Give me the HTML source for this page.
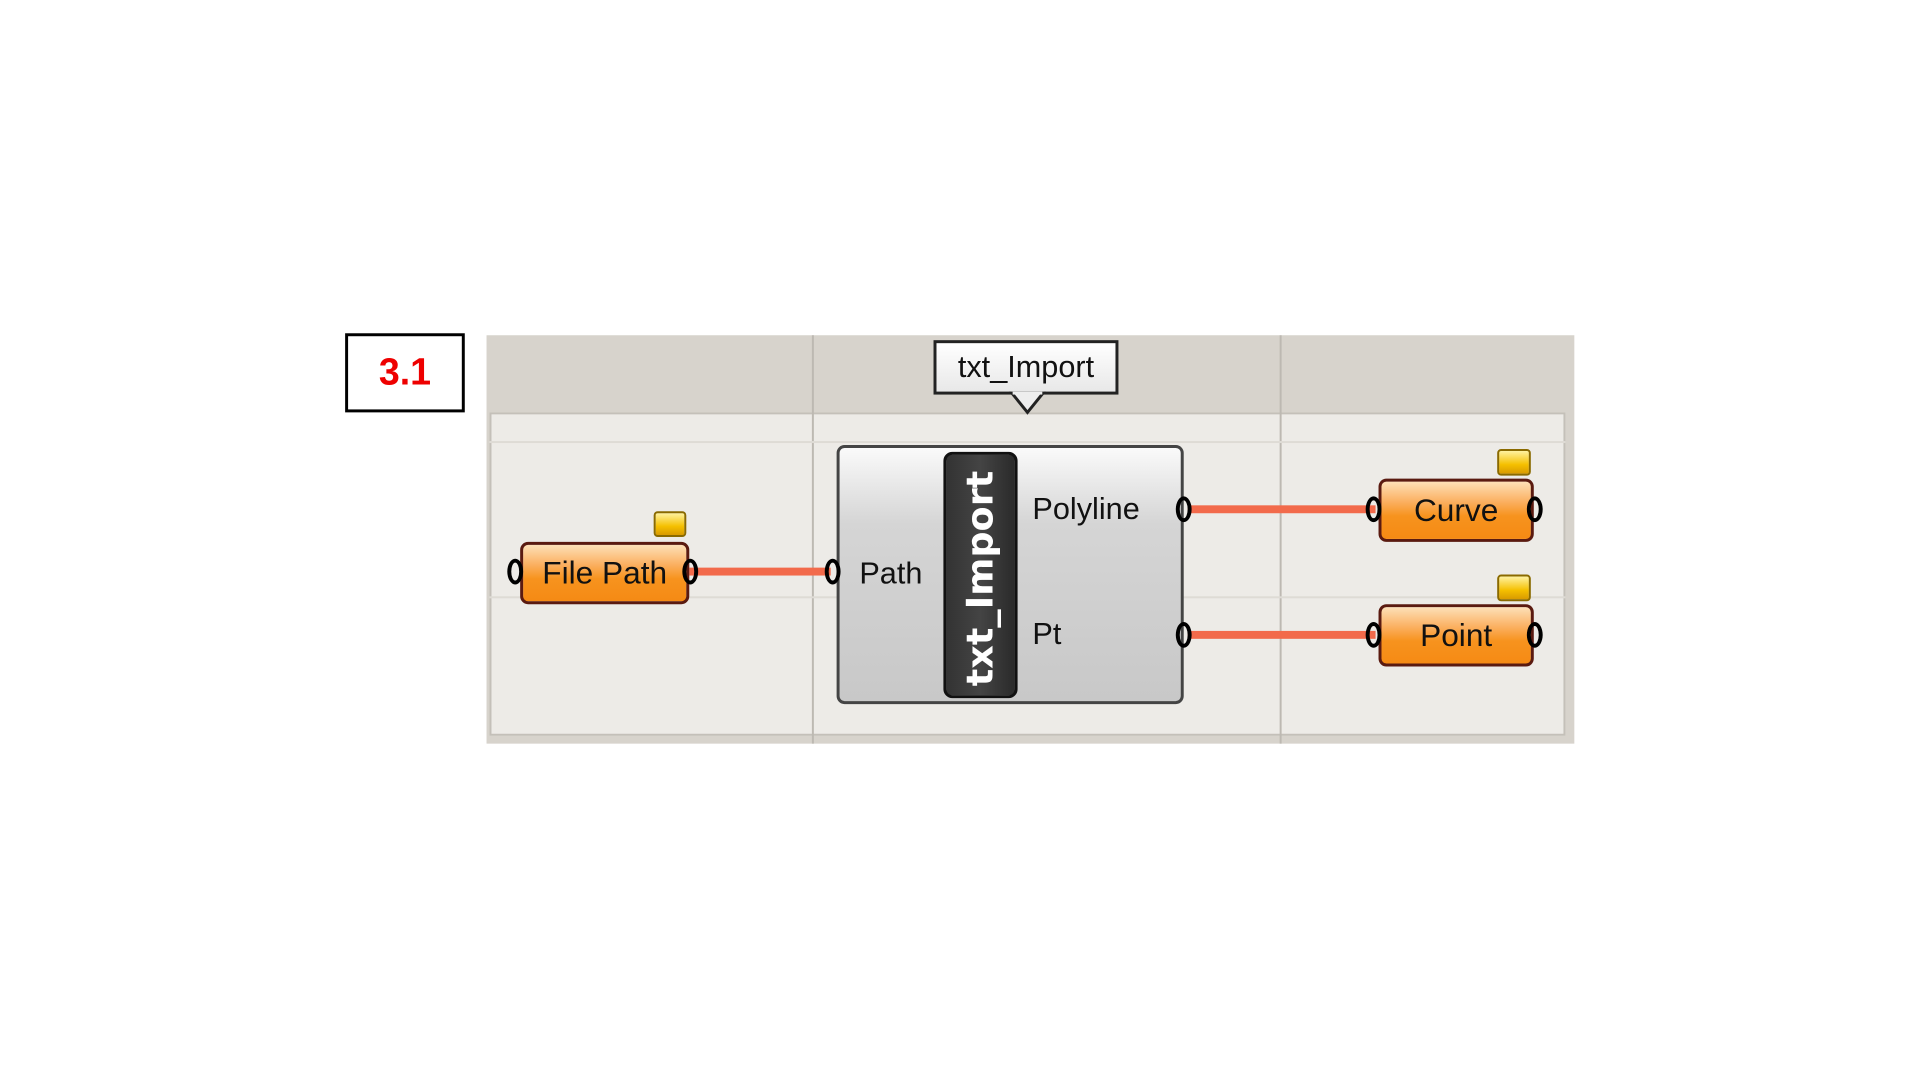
<!DOCTYPE html>
<html><head><meta charset="utf-8"><style>
body{margin:0;width:1920px;height:1080px;background:#fff;position:relative;overflow:hidden;font-family:"Liberation Sans",sans-serif}
#w{position:absolute;left:0;top:0;width:1920px;height:1080px;transform:scale(0.9889);transform-origin:0 0}
.a{position:absolute;box-sizing:border-box}
.node{background:linear-gradient(#fde0b8 0%,#fbb061 35%,#f7931e 60%,#f58a14 100%);border:3px solid #5a1a10;border-radius:8px;color:#111;font-size:32px;text-align:center}
.flag{background:linear-gradient(#fff2a0,#f5c000 60%,#d89a00);border:2px solid #8a6a00;border-radius:4px}
.port{width:16px;height:26px;border:4px solid #000;border-radius:50%;background:transparent}
.wire{height:8px;background:#f26a4b}
</style></head><body><div id="w">
<div class="a" style="left:349px;top:337px;width:121px;height:80px;border:3px solid #000;color:#e00;font-weight:bold;font-size:38px;text-align:center;line-height:74px">3.1</div>
<div class="a" style="left:492px;top:339px;width:1100px;height:413px;background:#d7d3cc"></div>
<div class="a" style="left:495px;top:417px;width:1088px;height:327px;background:#edebe7;border:2px solid #c4c0b9"></div>
<div class="a" style="left:821px;top:339px;width:2px;height:413px;background:#bdb9b2"></div>
<div class="a" style="left:1294px;top:339px;width:2px;height:413px;background:#bdb9b2"></div>
<div class="a" style="left:495px;top:446px;width:1088px;height:2px;background:#dedbd5"></div>
<div class="a" style="left:495px;top:603px;width:1088px;height:2px;background:#dedbd5"></div>
<div class="a" style="left:944px;top:344px;width:187px;height:55px;background:linear-gradient(#fff,#e8e8e8);border:3px solid #222;font-size:31px;text-align:center;line-height:48px;color:#111">txt_Import</div>
<svg class="a" style="left:1020px;top:396px" width="38" height="24"><polygon points="2,0 36,0 19,21" fill="#eee" stroke="#222" stroke-width="3"/><rect x="4" y="0" width="30" height="3" fill="#eee"/></svg>
<div class="a wire" style="left:697px;top:574px;width:143px"></div>
<div class="a wire" style="left:1201px;top:511px;width:190px"></div>
<div class="a wire" style="left:1201px;top:638px;width:190px"></div>
<div class="a" style="left:846px;top:450px;width:351px;height:262px;background:linear-gradient(#fafafa,#d5d5d5 30%,#c8c8c8);border:3px solid #444;border-radius:8px"></div>
<div class="a" style="left:954px;top:457px;width:75px;height:249px;background:linear-gradient(90deg,#333,#444 50%,#2a2a2a);border:3px solid #111;border-radius:9px"></div>
<div class="a" style="left:869px;top:562px;font-size:31px;color:#111">Path</div>
<div class="a" style="left:1044px;top:497px;font-size:31px;color:#111">Polyline</div>
<div class="a" style="left:1044px;top:623px;font-size:31px;color:#111">Pt</div>
<div class="a" style="left:991px;top:585px;width:0;height:0"><div style="position:absolute;transform:translate(-50%,-50%) rotate(-90deg);white-space:nowrap;color:#fff;font-weight:bold;font-size:37px;font-family:'DejaVu Sans',sans-serif">txt_Import</div></div>
<div class="a port" style="left:834px;top:565px"></div>
<div class="a port" style="left:1189px;top:502px"></div>
<div class="a port" style="left:1189px;top:629px"></div>
<div class="a node" style="left:526px;top:548px;width:171px;height:63px;line-height:56px">File Path</div>
<div class="a port" style="left:513px;top:565px"></div><div class="a port" style="left:690px;top:565px"></div>
<div class="a node" style="left:1394px;top:484px;width:157px;height:64px;line-height:58px">Curve</div>
<div class="a port" style="left:1381px;top:502px"></div><div class="a port" style="left:1544px;top:502px"></div>
<div class="a node" style="left:1394px;top:611px;width:157px;height:63px;line-height:57px">Point</div>
<div class="a port" style="left:1381px;top:629px"></div><div class="a port" style="left:1544px;top:629px"></div>
<div class="a flag" style="left:661px;top:517px;width:33px;height:26px"></div>
<div class="a flag" style="left:1514px;top:454px;width:34px;height:27px"></div>
<div class="a flag" style="left:1514px;top:581px;width:34px;height:27px"></div>
</div></body></html>
